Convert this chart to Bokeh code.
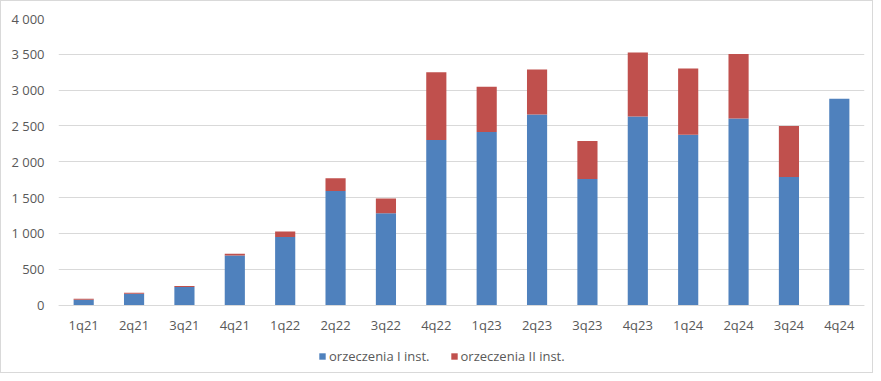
from bokeh.plotting import figure
from bokeh.models import Range1d, FixedTicker, Legend, LegendItem, ColumnDataSource
from bokeh.embed import file_html
from bokeh.resources import INLINE

quarters = ["1q21", "2q21", "3q21", "4q21", "1q22", "2q22", "3q22", "4q22",
            "1q23", "2q23", "3q23", "4q23", "1q24", "2q24", "3q24", "4q24"]
inst1 = [75, 159, 253, 693, 951, 1592, 1283, 2304, 2417, 2660, 1761, 2632, 2379, 2604, 1789, 2880]
inst2 = [13, 14, 14, 24, 75, 178, 206, 946, 632, 628, 529, 895, 923, 899, 712, 0]
series = ["orzeczenia I inst.", "orzeczenia II inst."]
colors = ["#4F81BD", "#C0504D"]
y_ticks = [0, 500, 1000, 1500, 2000, 2500, 3000, 3500, 4000]
y_tick_labels = ["0", "500", "1 000", "1 500", "2 000", "2 500", "3 000", "3 500", "4 000"]

src = ColumnDataSource(dict(q=quarters, a=inst1, b=inst2))

FONT = "Open Sans"
TXT = "#595959"

# frame: 354 px tall; 4000 units span 285 px -> the frame extends 69 px below zero
Y_MAX = 4000
Y_MIN = -Y_MAX * 69 / 285

p = figure(x_range=quarters, y_range=Range1d(Y_MIN, Y_MAX), width=873, height=373,
           output_backend="svg", toolbar_location=None,
           min_border_left=57, min_border_right=10, min_border_top=17, min_border_bottom=0)
p.styles = {"border": "1px solid #d9d9d9"}

r = p.vbar_stack(["a", "b"], x="q", width=0.4, color=colors, line_color=None, source=src)

p.outline_line_color = None
p.xgrid.grid_line_color = None
p.ygrid.grid_line_color = "#d9d9d9"
p.ygrid.grid_line_width = 1

p.yaxis.ticker = FixedTicker(ticks=y_ticks)
p.yaxis.major_label_overrides = {t: l for t, l in zip(y_ticks, y_tick_labels)}
p.yaxis.axis_line_color = None
p.yaxis.major_tick_line_color = None
p.yaxis.major_tick_out = 0
p.yaxis.minor_tick_line_color = None
p.yaxis.minor_tick_out = 0
p.yaxis.major_label_standoff = 14

p.xaxis.fixed_location = 0
p.xaxis.axis_line_color = "#d9d9d9"
p.xaxis.major_tick_line_color = None
p.xaxis.major_tick_out = 0
p.xaxis.minor_tick_line_color = None
p.xaxis.minor_tick_out = 0
p.xaxis.major_label_standoff = 11

for ax in (p.xaxis, p.yaxis):
    ax.major_label_text_font = FONT
    ax.major_label_text_font_size = "13px"
    ax.major_label_text_color = TXT

legend = Legend(items=[LegendItem(label=series[i], renderers=[r[i]]) for i in range(2)],
                orientation="horizontal", location=(260, 9),
                label_text_font=FONT, label_text_font_size="13px", label_text_color=TXT,
                glyph_width=8, glyph_height=8, label_standoff=3, spacing=20,
                border_line_color=None, background_fill_alpha=0, padding=0, margin=0)
p.add_layout(legend, "center")

open("out.html", "w").write(file_html(p, INLINE))
